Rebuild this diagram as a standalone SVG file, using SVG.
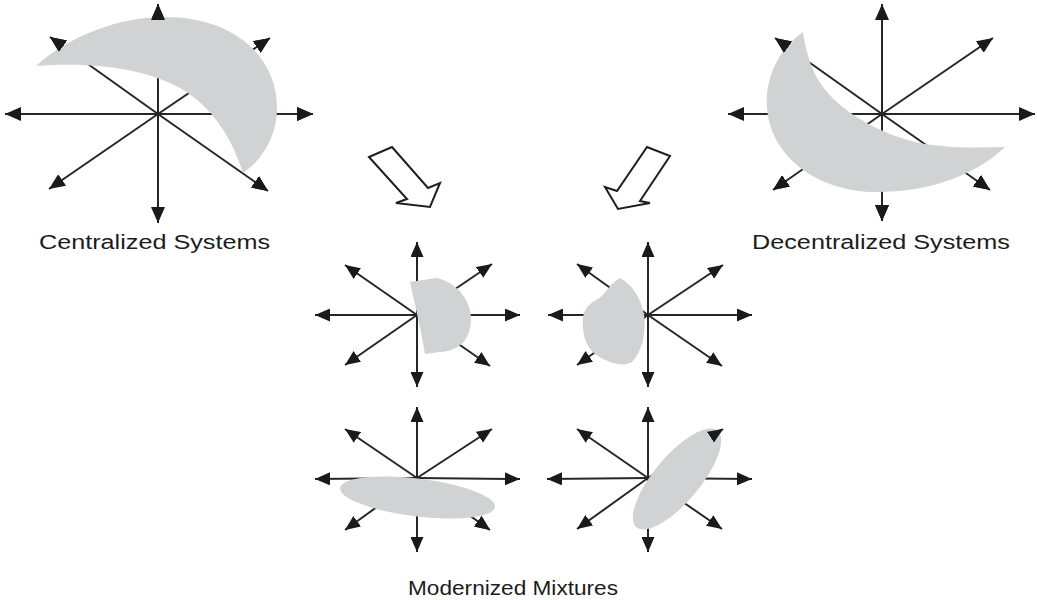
<svg xmlns="http://www.w3.org/2000/svg" width="1037" height="600" viewBox="0 0 1037 600">
  <defs>
    <marker id="head" viewBox="0 0 16 14" markerWidth="16" markerHeight="14" refX="16" refY="7" orient="auto" markerUnits="userSpaceOnUse">
      <path d="M0,0 L16,7 L0,14 z" fill="#1a1a1a"/>
    </marker>
    <marker id="headS" viewBox="0 0 15 13" markerWidth="15" markerHeight="13" refX="15" refY="6.5" orient="auto" markerUnits="userSpaceOnUse">
      <path d="M0,0 L15,6.5 L0,13 z" fill="#1a1a1a"/>
    </marker>
  </defs>
  <style>
    .ax { stroke: #262626; stroke-width: 2; fill: none; }
    .big { marker-end: url(#head); }
    .sm { marker-end: url(#headS); }
    .tips { stroke: none; fill: none; }
    .blob { fill: #d1d2d4; stroke: none; }
    .hollow { fill: #ffffff; stroke: #1f1f1f; stroke-width: 2; stroke-linejoin: miter; }
    .label { font-family: "Liberation Sans", Arial, sans-serif; font-size: 20px; fill: #1c1c1c; text-anchor: middle; }
  </style>
  <rect width="1037" height="600" fill="#ffffff"/>

  <!-- Centralized: eight axes, crescent over them, heads on top -->
  <g id="centralized">
    <g class="ax big">
      <line x1="158" y1="114" x2="158" y2="4"/>
      <line x1="158" y1="114" x2="158" y2="223"/>
      <line x1="158" y1="114" x2="5" y2="114"/>
      <line x1="158" y1="114" x2="313" y2="114"/>
      <line x1="158" y1="114" x2="50" y2="37"/>
      <line x1="158" y1="114" x2="270" y2="38"/>
      <line x1="158" y1="114" x2="49" y2="189"/>
      <line x1="158" y1="114" x2="268" y2="191"/>
    </g>
    <path class="blob" d="M36,66 C70,35 120,17 165,17 C232,17 277,55 277,108 C277,138 260,162 243,173 C232,138 212,106 180,88 C140,66 85,62 36,66 Z"/>
    <g class="tips big">
      <line x1="158" y1="114" x2="158" y2="4"/>
      <line x1="158" y1="114" x2="313" y2="114"/>
      <line x1="158" y1="114" x2="50" y2="37"/>
      <line x1="158" y1="114" x2="270" y2="38"/>
      <line x1="158" y1="114" x2="268" y2="191"/>
    </g>
    <text class="label" x="154.5" y="249" textLength="231" lengthAdjust="spacingAndGlyphs">Centralized Systems</text>
  </g>

  <!-- Decentralized -->
  <g id="decentralized">
    <g class="ax big">
      <line x1="882" y1="114" x2="882" y2="4"/>
      <line x1="882" y1="114" x2="882" y2="221"/>
      <line x1="882" y1="114" x2="728" y2="114"/>
      <line x1="882" y1="114" x2="1035" y2="114"/>
      <line x1="882" y1="114" x2="775" y2="38"/>
      <line x1="882" y1="114" x2="993" y2="38"/>
      <line x1="882" y1="114" x2="773" y2="190"/>
      <line x1="882" y1="114" x2="990" y2="190"/>
    </g>
    <path class="blob" d="M803,32 C776,52 765,80 767,108 C771,160 822,192 876,192 C930,192 976,175 1005,147 C972,148 942,148 915,142 C872,131 832,106 816,76 C808,60 805,45 803,32 Z"/>
    <g class="tips big">
      <line x1="882" y1="114" x2="775" y2="38"/>
      <line x1="882" y1="114" x2="773" y2="190"/>
      <line x1="882" y1="114" x2="990" y2="190"/>
      <line x1="882" y1="114" x2="882" y2="221"/>
    </g>
    <text class="label" x="881" y="249" textLength="258" lengthAdjust="spacingAndGlyphs">Decentralized Systems</text>
  </g>

  <!-- Hollow transition arrows -->
  <g id="transitions">
    <polygon class="hollow" points="369,157 392,147 428,188 440,183 430,207 396,203 407,199"/>
    <polygon class="hollow" points="647,147 670,156 640,201 650,203 618,209 605,187 617,191"/>
  </g>

  <!-- Mixture A: D-shaped region -->
  <g id="mixture-a">
    <g class="ax sm">
      <line x1="417" y1="315" x2="417" y2="242"/>
      <line x1="417" y1="315" x2="417" y2="387"/>
      <line x1="417" y1="315" x2="315" y2="315"/>
      <line x1="417" y1="315" x2="520" y2="315"/>
      <line x1="417" y1="315" x2="345" y2="265"/>
      <line x1="417" y1="315" x2="492" y2="264"/>
      <line x1="417" y1="315" x2="345" y2="365"/>
      <line x1="417" y1="315" x2="490" y2="366"/>
    </g>
    <path class="blob" d="M410,282 L437,278 C456,282 471,300 471,318 C471,340 459,351 440,352 L425,354 C421,330 415,305 410,282 Z"/>
  </g>

  <!-- Mixture B: irregular blob -->
  <g id="mixture-b">
    <g class="ax sm">
      <line x1="648" y1="315" x2="648" y2="242"/>
      <line x1="648" y1="315" x2="648" y2="387"/>
      <line x1="648" y1="315" x2="548" y2="315"/>
      <line x1="648" y1="315" x2="752" y2="315"/>
      <line x1="648" y1="315" x2="577" y2="264"/>
      <line x1="648" y1="315" x2="723" y2="265"/>
      <line x1="648" y1="315" x2="577" y2="365"/>
      <line x1="648" y1="315" x2="722" y2="366"/>
    </g>
    <path class="blob" d="M620,278 C632,284 641,298 644,315 C646,332 643,350 632,362 C622,368 606,362 595,354 C584,345 582,330 583,318 C584,308 590,303 598,299 C606,294 608,285 620,278 Z"/>
  </g>

  <!-- Mixture C: flat tilted ellipse -->
  <g id="mixture-c">
    <g class="ax sm">
      <line x1="417" y1="478" x2="417" y2="407"/>
      <line x1="417" y1="478" x2="417" y2="552"/>
      <line x1="417" y1="478" x2="315" y2="479"/>
      <line x1="417" y1="478" x2="520" y2="479"/>
      <line x1="417" y1="478" x2="345" y2="429"/>
      <line x1="417" y1="478" x2="492" y2="429"/>
      <line x1="417" y1="478" x2="345" y2="530"/>
      <line x1="417" y1="478" x2="490" y2="530"/>
    </g>
    <ellipse class="blob" cx="417.5" cy="497.5" rx="78" ry="19" transform="rotate(7 417.5 497.5)"/>
    <g class="tips sm">
      <line x1="417" y1="478" x2="490" y2="530"/>
    </g>
  </g>

  <!-- Mixture D: steep tilted ellipse -->
  <g id="mixture-d">
    <g class="ax sm">
      <line x1="648" y1="478" x2="648" y2="407"/>
      <line x1="648" y1="478" x2="648" y2="552"/>
      <line x1="648" y1="478" x2="547" y2="479"/>
      <line x1="648" y1="478" x2="752" y2="479"/>
      <line x1="648" y1="478" x2="577" y2="429"/>
      <line x1="648" y1="478" x2="723" y2="429"/>
      <line x1="648" y1="478" x2="577" y2="529"/>
      <line x1="648" y1="478" x2="722" y2="529"/>
    </g>
    <ellipse class="blob" cx="677" cy="479" rx="63" ry="23" transform="rotate(-50 677 479)"/>
    <g class="tips sm">
      <line x1="648" y1="478" x2="723" y2="429"/>
    </g>
    <text class="label" x="513" y="595" textLength="210" lengthAdjust="spacingAndGlyphs">Modernized Mixtures</text>
  </g>
</svg>
